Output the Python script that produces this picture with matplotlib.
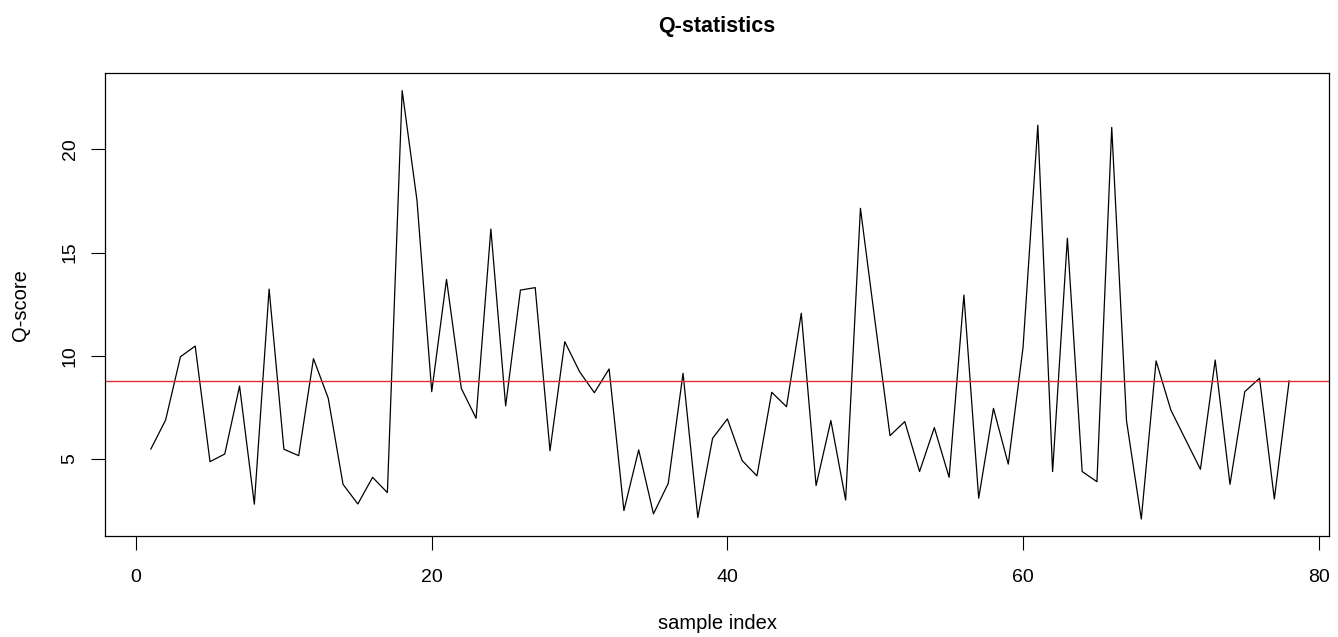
import matplotlib
matplotlib.use('Agg')
import matplotlib.pyplot as plt
import numpy as np

plt.rcParams['font.family'] = ['Liberation Sans', 'DejaVu Sans']

# Q-statistic per sample and the control limit
sample_index = np.arange(1, 79)
q_score = [
    5.48, 6.89, 9.95, 10.47, 4.87, 5.24, 8.53, 2.81, 13.23, 5.47,
    5.16, 9.86, 7.94, 3.77, 2.82, 4.11, 3.37, 22.84, 17.54, 8.26,
    13.70, 8.42, 6.97, 16.14, 7.57, 13.18, 13.30, 5.40, 10.68, 9.23,
    8.21, 9.36, 2.50, 5.44, 2.34, 3.82, 9.15, 2.16, 6.00, 6.94,
    4.92, 4.18, 8.23, 7.53, 12.06, 3.71, 6.86, 3.01, 17.14, 11.60,
    6.13, 6.81, 4.39, 6.52, 4.11, 12.94, 3.10, 7.45, 4.75, 10.40,
    21.17, 4.39, 15.69, 4.39, 3.90, 21.06, 6.85, 2.09, 9.75, 7.37,
    5.93, 4.50, 9.79, 3.77, 8.26, 8.91, 3.06, 8.78,
]
q_limit = 8.79

x_ticks = [0, 20, 40, 60, 80]
y_ticks = [5, 10, 15, 20]

fig = plt.figure(figsize=(13.38, 6.37), dpi=100)
ax = fig.add_axes([0.0785, 0.1586, 0.9148, 0.7263])

ax.plot(sample_index, q_score, color='black', linewidth=0.9)
ax.axhline(q_limit, color='#e03030', linewidth=1.0)

ax.set_xlim(-2.1, 80.7)
ax.set_ylim(1.27, 23.68)
ax.set_xticks(x_ticks)
ax.set_yticks(y_ticks)
ax.tick_params(axis='both', length=10, width=0.8, labelsize=14, pad=14)
ax.tick_params(axis='y', pad=9)
for lbl in ax.get_yticklabels():
    lbl.set_rotation(90)
    lbl.set_va('center')

for s in ax.spines.values():
    s.set_linewidth(0.9)

ax.set_title('Q-statistics', fontsize=15.5, fontweight='bold', pad=30)
ax.set_xlabel('sample index', fontsize=14.5, labelpad=20)
ax.set_ylabel('Q-score', fontsize=14.5, labelpad=23)

plt.savefig('out.png', dpi=100)
